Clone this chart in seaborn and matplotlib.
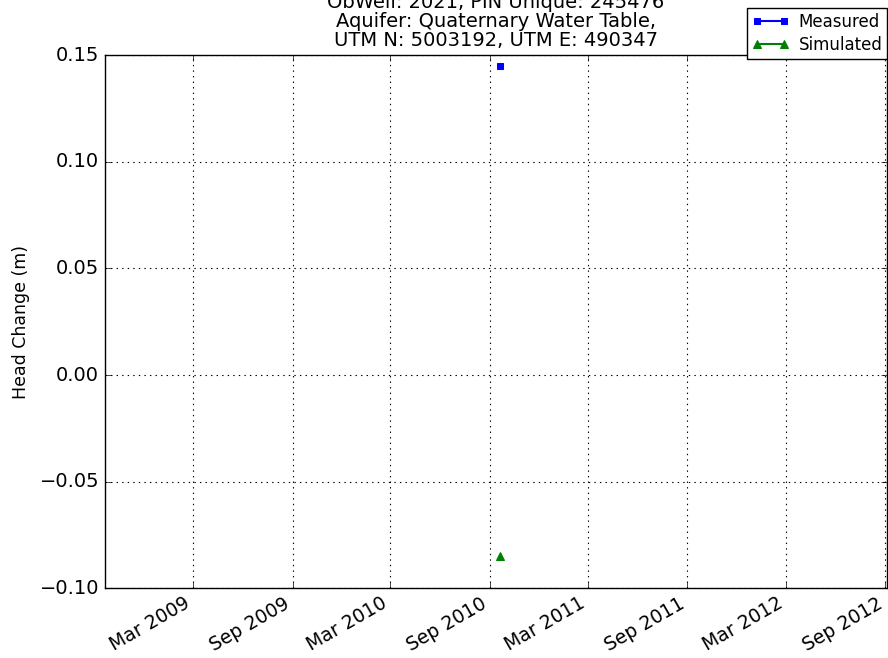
import pandas as pd
import numpy as np
import matplotlib
matplotlib.use('Agg')
import matplotlib.pyplot as plt
import matplotlib.dates as mdates
import seaborn as sns

plt.style.use('classic')
plt.rcParams['font.family'] = ['DejaVu Sans']
plt.rcParams['axes.unicode_minus'] = True

dates = pd.to_datetime(['2010-09-20'])
measured = [0.145]
simulated = [-0.085]

df = pd.DataFrame({'Date': dates, 'Measured': measured, 'Simulated': simulated})

fig = plt.figure(figsize=(8.88, 6.58), dpi=100, facecolor='white')
ax = fig.add_axes([0.118, 0.106, 0.881, 0.810])

sns.lineplot(data=df, x='Date', y='Measured', ax=ax, color='blue', marker='s',
             markersize=4.5, markeredgecolor='blue', linewidth=1.5, label='Measured')
sns.lineplot(data=df, x='Date', y='Simulated', ax=ax, color='green', marker='^',
             markersize=5.5, markeredgecolor='green', linewidth=1.5, label='Simulated')

ax.set_xlim(pd.Timestamp('2008-09-19'), pd.Timestamp('2012-09-04'))
ax.set_ylim(-0.10, 0.15)
ax.set_yticks([-0.10, -0.05, 0.00, 0.05, 0.10, 0.15])
ax.yaxis.set_major_formatter(matplotlib.ticker.FuncFormatter(
    lambda v, p: ('%.2f' % v).replace('-', '\u2212')))
ax.xaxis.set_major_locator(mdates.MonthLocator(bymonth=[3, 9]))
ax.xaxis.set_major_formatter(mdates.DateFormatter('%b %Y'))
plt.setp(ax.get_xticklabels(), rotation=30, ha='right', fontsize=13.5)
plt.setp(ax.get_yticklabels(), fontsize=14)
ax.grid(True, color='black', linestyle=':', linewidth=0.8)
ax.set_xlabel('')
ax.set_ylabel('Head Change (m)', fontsize=12.5, labelpad=7)
ax.set_title('ObWell: 2021, PIN Unique: 245476\nAquifer: Quaternary Water Table,\nUTM N: 5003192, UTM E: 490347',
             fontsize=14, linespacing=1.0, pad=7)

ax.legend(loc='upper right', bbox_to_anchor=(1.005, 0.995), bbox_transform=fig.transFigure,
          fontsize=12, numpoints=2, borderaxespad=0.3, handlelength=2.2,
          handletextpad=0.6, borderpad=0.3, labelspacing=0.3, markerscale=1.0)

fig.savefig('out.png', dpi=100, facecolor='white')
